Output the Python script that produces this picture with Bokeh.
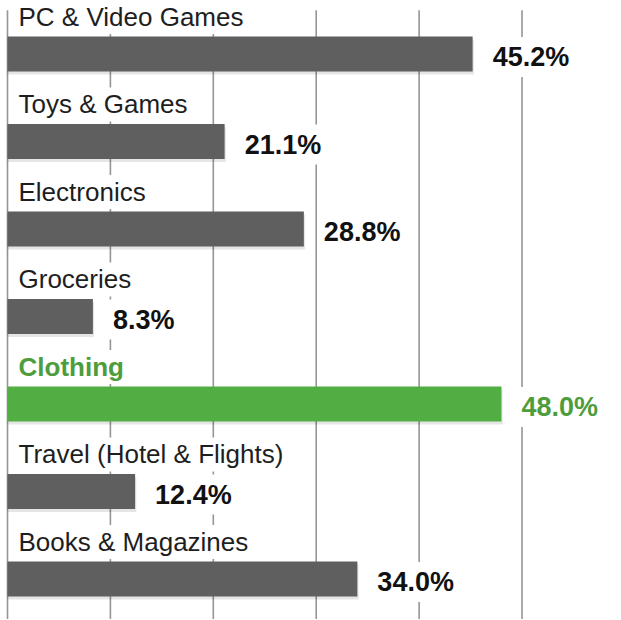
from bokeh.plotting import figure
from bokeh.models import ColumnDataSource, Range1d
from bokeh.core.properties import value
from bokeh.embed import file_html
from bokeh.resources import INLINE

categories = ["PC & Video Games", "Toys & Games", "Electronics", "Groceries",
              "Clothing", "Travel (Hotel & Flights)", "Books & Magazines"]
values = [45.2, 21.1, 28.8, 8.3, 48.0, 12.4, 34.0]
highlight = "Clothing"
grid_ticks = [0, 10, 20, 30, 40, 50]

GRAY = "#5f5f5f"
GREEN = "#52ae43"
GREEN_TXT = "#4e9d3c"

idx = list(range(len(categories)))
is_hi = [c == highlight for c in categories]
src = ColumnDataSource(dict(
    y=idx,
    v=values,
    zero=[0] * len(values),
    cat=categories,
    val=[f"{v:.1f}%" for v in values],
    bar_color=[GREEN if h else GRAY for h in is_hi],
    txt_color=[GREEN_TXT if h else "#1e1e1e" for h in is_hi],
    val_color=[GREEN_TXT if h else "#111111" for h in is_hi],
    cat_style=["bold" if h else "normal" for h in is_hi],
    label_y=[i - 0.423 for i in idx],
    val_y=[i + 0.035 for i in idx],
    shadow_y=[i + 0.035 for i in idx],
    shadow_v=[v + 0.12 for v in values],
))

W, H = 620, 619
p = figure(width=W, height=H, output_backend="svg", toolbar_location=None,
           x_range=Range1d(-0.68, 59.57), y_range=Range1d(6.463, -0.611),
           min_border=0)
p.outline_line_color = None
p.background_fill_color = "white"
p.border_fill_color = "white"
p.xaxis.visible = False
p.yaxis.visible = False
p.xgrid.visible = False
p.ygrid.visible = False

# vertical gridlines, from just above the first label to the bottom
n = len(categories)
grid_src = ColumnDataSource(dict(
    x=grid_ticks,
    y0=[-0.5] * len(grid_ticks),
    y1=[n] * len(grid_ticks),
))
p.segment(x0="x", x1="x", y0="y0", y1="y1", source=grid_src,
          line_color="#959595", line_width=1.6)

# soft shadow under bars
p.hbar(y="shadow_y", left="zero", right="shadow_v", height=0.4, source=src,
       fill_color="#000000", fill_alpha=0.10, line_color=None)
p.hbar(y="y", left="zero", right="v", height=0.4, source=src,
       fill_color="bar_color", line_color=None)

p.text(x="zero", y="label_y", text="cat", source=src, x_offset=9,
       text_font=value("Liberation Sans"), text_font_size="26px",
       text_font_style="cat_style", text_color="txt_color",
       text_baseline="alphabetic", text_align="left",
       background_fill_color="white", padding=2)

p.text(x="v", y="val_y", text="val", source=src, x_offset=15,
       text_font=value("Liberation Sans"), text_font_size="27px",
       text_font_style="bold", text_color="val_color",
       text_baseline="alphabetic", text_align="left",
       background_fill_color="white", padding=5)

open("out.html", "w").write(file_html(p, INLINE))
